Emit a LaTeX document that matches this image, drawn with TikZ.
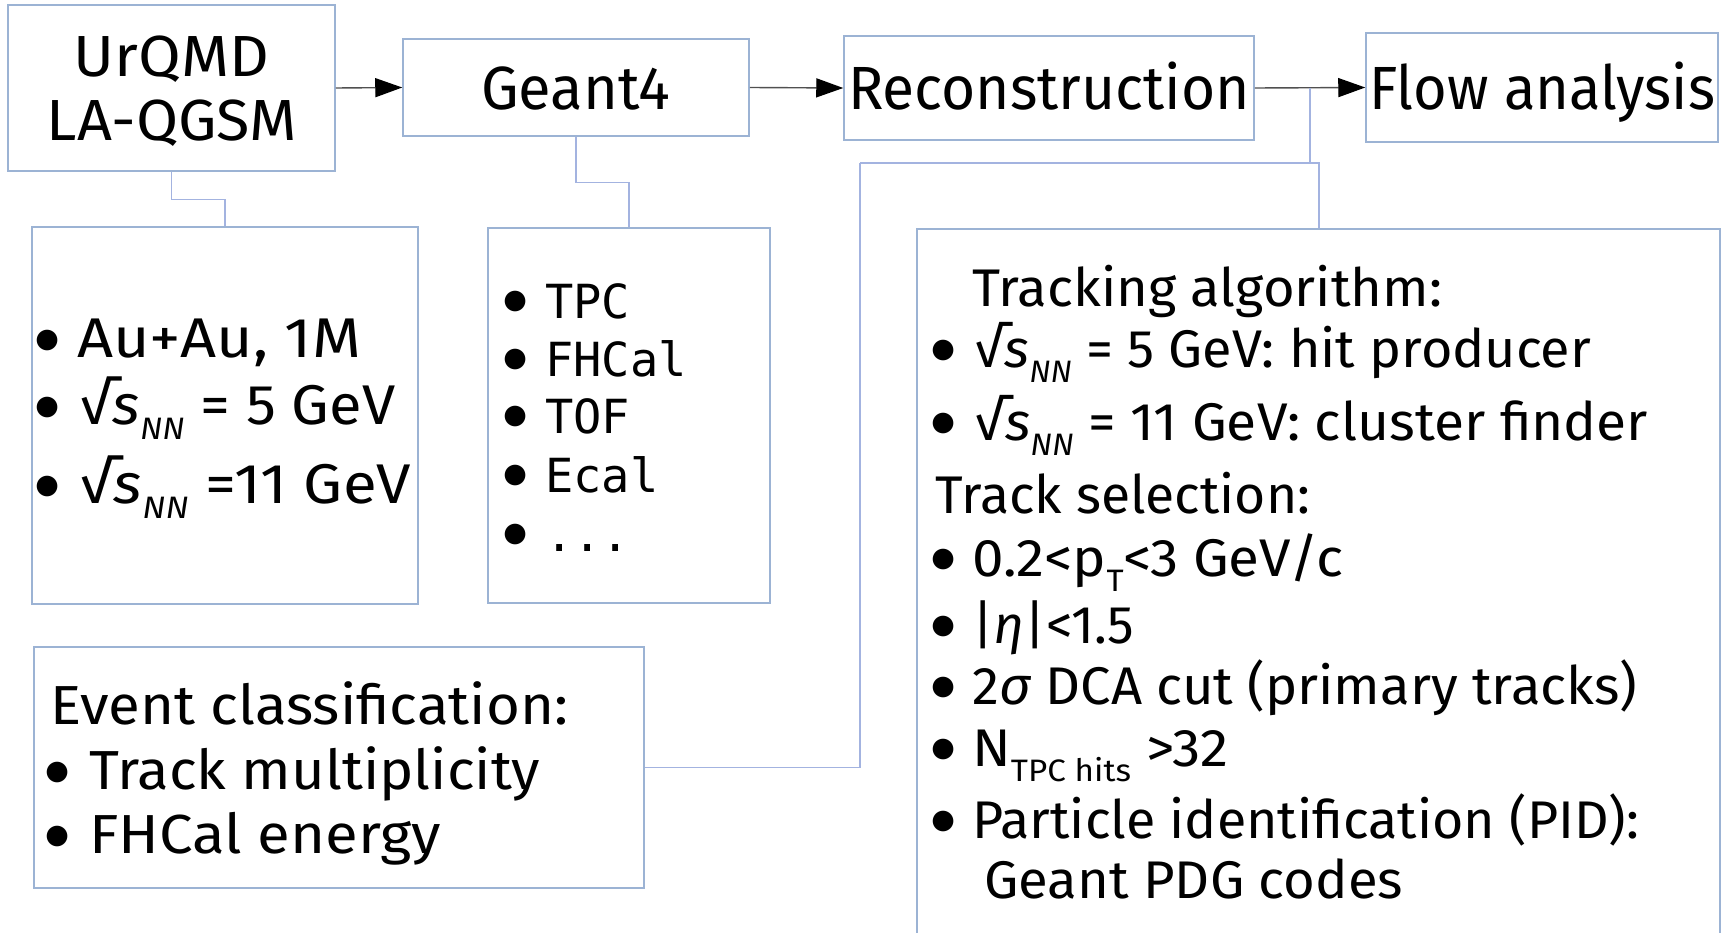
\documentclass[tikz,border=0pt]{standalone}
\usepackage{fontspec}
\setmainfont{Fira Sans}
\newfontfamily\monof{DejaVu Sans Mono}
\newfontfamily\symf{DejaVu Sans}
\usetikzlibrary{arrows.meta,calc}
\definecolor{boxc}{HTML}{9CB3D4}
\definecolor{linec}{HTML}{A3B3E0}
\definecolor{arrc}{HTML}{505050}
\newcommand\fitw[2]{\resizebox{#1}{\height}{#2}}
\newcommand\sbx[1]{\raisebox{-15pt}{\fontsize{31}{31}\selectfont #1}}
\newcommand\rts{√\textit{s}\sbx{\itshape NN}}
\newcommand\bx[1]{\makebox[0pt]{\smash{\raisebox{10pt}{\symf\fontsize{27}{27}\selectfont ●}}}\hspace{#1}}
\begin{document}
\begin{tikzpicture}[x=1pt,y=-1pt,
  box/.style={draw=boxc, line width=1.5pt, inner sep=0pt},
  conn/.style={draw=linec, line width=1.4pt},
  arr/.style={draw=arrc, line width=1.4pt, -{Triangle[length=27pt,width=19pt,color=black]}},
  txt/.style={inner sep=0pt, anchor=base west},
  ctxt/.style={inner sep=0pt, anchor=base},
  topf/.style={font=\fontsize{61}{61}\selectfont},
  urf/.style={font=\fontsize{58}{58}\selectfont},
  genf/.style={font=\fontsize{56}{56}\selectfont},
  evf/.style={font=\fontsize{55}{55}\selectfont},
  recf/.style={font=\fontsize{53}{53}\selectfont}]
\clip (0,0) rectangle (1724,933);
\fill[white] (0,0) rectangle (1724,933);

% boxes
\node[box, minimum width=327pt, minimum height=166pt] (urqmd) at (171.5,88) {};
\node[box, minimum width=346pt, minimum height=97pt] (geant) at (576,87.5) {};
\node[box, minimum width=410pt, minimum height=104pt] (reco) at (1049,88) {};
\node[box, minimum width=352pt, minimum height=109pt] (flow) at (1542,87.5) {};
\node[box, minimum width=386pt, minimum height=377pt] (gen) at (225,415.5) {};
\node[box, minimum width=282pt, minimum height=375pt] (det) at (629,415.5) {};
\node[box, minimum width=610pt, minimum height=241pt] (evt) at (339,767.5) {};
\node[box, minimum width=803pt, minimum height=731pt] (rec) at (1318.5,594.5) {};

% top labels
\node[ctxt, urf] (l-urqmd) at (171.5,77) {\fitw{195pt}{UrQMD}};
\node[ctxt, urf] (l-laqgsm) at (172,141) {\fitw{250pt}{LA-QGSM}};
\node[ctxt, topf] (l-geant) at (575.5,110) {\fitw{189pt}{Geant4}};
\node[ctxt, topf] (l-reco) at (1049,110) {\fitw{402pt}{Reconstruction}};
\node[ctxt, topf] (l-flow) at (1542,110) {\fitw{346pt}{Flow analysis}};

% generator box
\node[txt, genf] (g1) at (47,357) {\bx{30pt}\fitw{284pt}{Au+Au, 1M}};
\node[txt, genf] (g2) at (47,424) {\bx{32pt}\fitw{316pt}{\rts{} = 5 GeV}};
\node[txt, genf] (g3) at (47,503) {\bx{32pt}\fitw{332pt}{\rts{} =11 GeV}};

% detector box
\node[txt, genf] (d1) at (515,319) {\bx{30pt}{\monof\fontsize{47}{47}\selectfont TPC}};
\node[txt, genf] (d2) at (515,376) {\bx{30pt}{\monof\fontsize{47}{47}\selectfont FHCal}};
\node[txt, genf] (d3) at (515,433) {\bx{30pt}{\monof\fontsize{47}{47}\selectfont TOF}};
\node[txt, genf] (d4) at (515,492) {\bx{30pt}{\monof\fontsize{47}{47}\selectfont Ecal}};
\node[txt, genf] (d5) at (515,551) {\bx{30pt}{\monof\fontsize{47}{47}\selectfont ...}};

% event classification box
\node[txt, evf] (e0) at (50,724) {\fitw{518pt}{Event classification:}};
\node[txt, evf] (e1) at (57,789) {\bx{32pt}\fitw{451pt}{Track multiplicity}};
\node[txt, evf] (e2) at (57,853) {\bx{32pt}\fitw{352pt}{FHCal energy}};

% reconstruction details box
\node[txt, recf] (r0) at (972,306) {\fitw{470pt}{Tracking algorithm:}};
\node[txt, recf] (r1) at (943,367) {\bx{31pt}\fitw{617pt}{\rts{} = 5 GeV: hit producer}};
\node[txt, recf] (r2) at (943,440) {\bx{31pt}\fitw{674pt}{\rts{} = 11 GeV: cluster finder}};
\node[txt, recf] (r3) at (935,513) {\fitw{375pt}{Track selection:}};
\node[txt, recf] (r4) at (943,576) {\bx{29pt}\fitw{371pt}{0.2<p\sbx{T}<3 GeV/c}};
\node[txt, recf] (r5) at (943,643) {\bx{29pt}\fitw{162pt}{|\textit{η}|<1.5}};
\node[txt, recf] (r6) at (943,704) {\bx{29pt}\fitw{665pt}{2\textit{σ} DCA cut (primary tracks)}};
\node[txt, recf] (r7) at (943,766) {\bx{29pt}\fitw{256pt}{N\sbx{TPC hits} >32}};
\node[txt, recf] (r8) at (943,838) {\bx{29pt}\fitw{667pt}{Particle identification (PID):}};
\node[txt, recf] (r9) at (984,898) {\fitw{419pt}{Geant PDG codes}};

% arrows
\draw[arr] (urqmd.east) -- (geant.west);
\draw[arr] (geant.east) -- (reco.west);
\draw[arr] (reco.east) -- (flow.west);

% branch connectors
\draw[conn] (urqmd.south) -- ++(0,28) -| (gen.north);
\draw[conn] (geant.south) -- ++(0,46) -| (det.north);
\coordinate (br) at ($(reco.east)!0.5!(flow.west)$);
\coordinate (jl) at (860,163);
\coordinate (jr) at (1319,163);
\draw[conn] (br) -- (br |- jl);
\draw[conn] (jl) -- (jr) -- (jr |- rec.north);
\draw[conn] (jl) |- (evt.east);
\end{tikzpicture}
\end{document}
